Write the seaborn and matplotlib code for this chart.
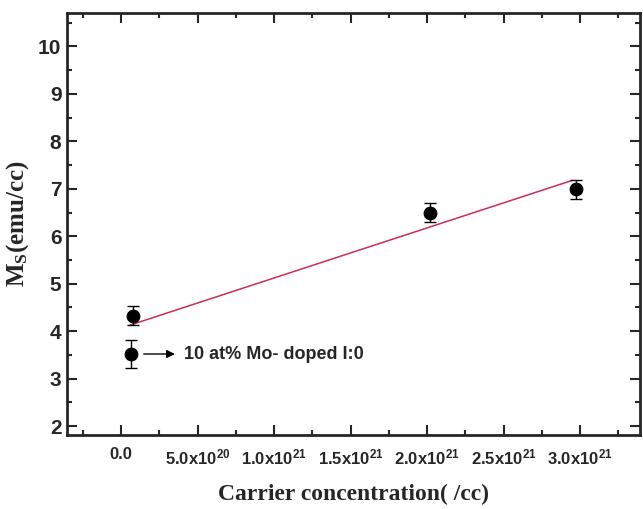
import matplotlib
matplotlib.use("Agg")
import matplotlib.pyplot as plt
import numpy as np
import pandas as pd
import seaborn as sns
from matplotlib.ticker import MultipleLocator, FixedLocator

# data
carrier = [0.08e21, 0.063e21, 2.02e21, 2.97e21]
ms = [4.33, 3.52, 6.5, 6.99]
ms_err = [0.2, 0.3, 0.2, 0.2]

# linear fit line (endpoints as drawn)
fit_x = [0.06e21, 2.95e21]
fit_y = [4.13, 7.18]

xticks = [0.0, 0.5e21, 1.0e21, 1.5e21, 2.0e21, 2.5e21, 3.0e21]
xtick_labels = ["0.0", "5.0x10$^{20}$", "1.0x10$^{21}$", "1.5x10$^{21}$",
                "2.0x10$^{21}$", "2.5x10$^{21}$", "3.0x10$^{21}$"]
yticks = [2, 3, 4, 5, 6, 7, 8, 9, 10]

df = pd.DataFrame({"carrier": carrier, "ms": ms})
df_fit = pd.DataFrame({"carrier": fit_x, "ms": fit_y})

sns.set_style("ticks")
plt.rcParams["font.family"] = ["Liberation Sans", "DejaVu Sans"]
plt.rcParams["mathtext.default"] = "regular"

fig = plt.figure(figsize=(6.43, 5.09), dpi=100)
ax = fig.add_axes([0.1042, 0.146, 0.891, 0.828])

sns.lineplot(data=df_fit, x="carrier", y="ms", color="#cc2e55", lw=1.1, ax=ax)
ax.errorbar(carrier, ms, yerr=ms_err, fmt="none", ecolor="black",
            elinewidth=1.0, capsize=4.5, capthick=1.0, zorder=3)
sns.scatterplot(data=df, x="carrier", y="ms", color="black", s=85,
                edgecolor="black", zorder=4, ax=ax)

ax.annotate("", xy=(0.37e21, 3.52), xytext=(0.13e21, 3.52),
            arrowprops=dict(arrowstyle="-|>", color="black", lw=1.0,
                            mutation_scale=12))
ax.text(0.41e21, 3.52, "10 at% Mo- doped I:0", fontsize=13,
        fontweight="bold", va="center", ha="left")

ax.set_xlim(-0.353e21, 3.39e21)
ax.set_ylim(1.82, 10.7)
ax.xaxis.set_major_locator(FixedLocator(xticks))
ax.set_xticklabels(xtick_labels)
ax.xaxis.set_minor_locator(MultipleLocator(0.25e21))
ax.yaxis.set_major_locator(FixedLocator(yticks))
ax.yaxis.set_minor_locator(MultipleLocator(0.5))

ax.tick_params(which="both", direction="in", top=True, right=True, width=1.5)
ax.tick_params(which="major", length=7)
ax.tick_params(which="minor", length=3.5)
ax.tick_params(axis="x", labelsize=12, pad=9)
ax.tick_params(axis="y", labelsize=15, pad=4)
for lbl in ax.get_xticklabels() + ax.get_yticklabels():
    lbl.set_fontweight("bold")
for sp in ax.spines.values():
    sp.set_linewidth(2)

ax.set_xlabel("Carrier concentration( /cc)", fontsize=17, fontweight="bold",
              family="Liberation Serif", labelpad=12)
ax.set_ylabel("M$_S$(emu/cc)", fontsize=18, fontweight="bold",
              family="Liberation Serif", labelpad=5)

plt.savefig("out.png", dpi=100)
plt.close()
